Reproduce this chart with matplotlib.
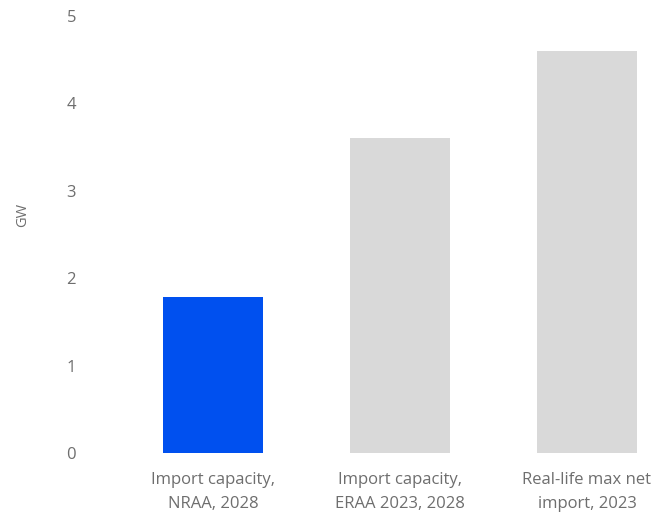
import matplotlib
matplotlib.use("Agg")
import matplotlib.pyplot as plt

categories = ["Import capacity,\nNRAA, 2028", "Import capacity,\nERAA 2023, 2028", "Real-life max net\nimport, 2023"]
values = [1.78, 3.6, 4.6]
colors = ["#0050EF", "#D9D9D9", "#D9D9D9"]
yticks = [0, 1, 2, 3, 4, 5]

plt.rcParams["font.family"] = ["Open Sans", "DejaVu Sans"]

W, H = 664, 515
fig = plt.figure(figsize=(W / 100, H / 100), dpi=100)
left, right, bottom, top = 90, 664, 453, 16
ax = fig.add_axes([left / W, 1 - bottom / H, (right - left) / W, (bottom - top) / H])

x = list(range(len(categories)))
ax.bar(x, values, width=0.535, color=colors)

ax.set_xlim(-0.658, 2.412)
ax.set_ylim(0, 5)
ax.set_yticks(yticks)
ax.set_xticks(x)
ax.set_xticklabels(categories, fontsize=12, color="#6E6E6E", linespacing=1.6)
ax.tick_params(axis="y", length=0, pad=10, labelsize=12, labelcolor="#6E6E6E")
ax.tick_params(axis="x", length=0, pad=14)
for s in ax.spines.values():
    s.set_visible(False)

fig.text(23 / W, 1 - 215 / H, "GW", rotation=90, ha="center", va="center", fontsize=10.5, color="#6E6E6E")

fig.savefig("out.png", dpi=100)
